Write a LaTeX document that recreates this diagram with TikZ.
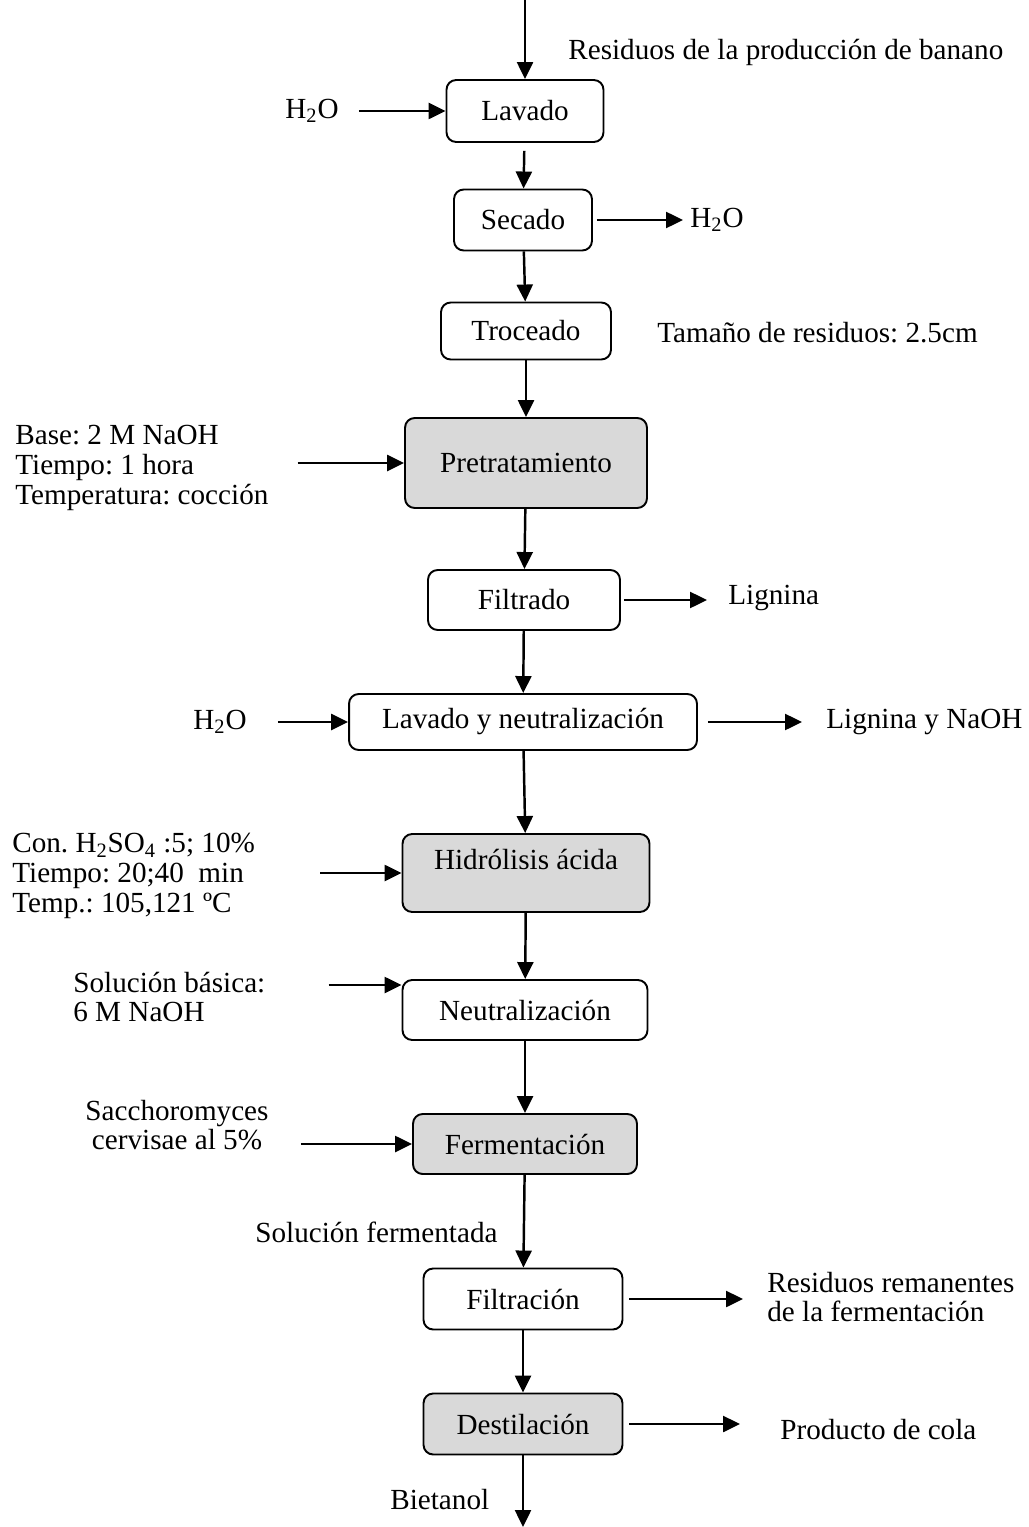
\documentclass[tikz,border=0pt]{standalone}
\usepackage{fontspec}
\setmainfont{Liberation Serif}
\usepackage{tikz}
\usetikzlibrary{arrows.meta}

\definecolor{boxgray}{HTML}{D9D9D9}
\newcommand{\flowsize}{\fontsize{16.6pt}{17pt}\selectfont}
\frenchspacing

\begin{document}
\begin{tikzpicture}[x=0.02cm, y=-0.02cm,
  every node/.style={font=\flowsize},
  stepbox/.style={rectangle, draw, line width=1.1pt, rounded corners=5.5pt, inner sep=0pt, align=center},
  graybox/.style={stepbox, fill=boxgray},
  lbl/.style={inner sep=0pt, anchor=west, align=left},
  flow/.style={-{Triangle[length=3.4mm,width=3.2mm]}, line width=1.4pt}]
\useasboundingbox (0,0) rectangle (1028,1527);

% Process steps
\node[stepbox, minimum width=3.14cm, minimum height=1.24cm] (lavado) at (525,111) {Lavado};
\node[stepbox, minimum width=2.76cm, minimum height=1.22cm] (secado) at (523,220) {Secado};
\node[stepbox, minimum width=3.40cm, minimum height=1.14cm] (troceado) at (526,331) {Troceado};
\node[graybox, minimum width=4.84cm, minimum height=1.80cm] (pretrat) at (526,463) {Pretratamiento};
\node[stepbox, minimum width=3.84cm, minimum height=1.20cm] (filtrado) at (524,600) {Filtrado};
\node[stepbox, minimum width=6.96cm, minimum height=1.12cm] (lavneut) at (523,722) {Lavado y neutralización};
\node[graybox, minimum width=4.94cm, minimum height=1.56cm, text depth=0.56cm] (hidro) at (526,873) {Hidrólisis ácida};
\node[stepbox, minimum width=4.90cm, minimum height=1.20cm] (neutr) at (525,1010) {Neutralización};
\node[graybox, minimum width=4.48cm, minimum height=1.20cm] (ferm) at (525,1144) {Fermentación};
\node[stepbox, minimum width=3.98cm, minimum height=1.22cm] (filtrac) at (523,1299) {Filtración};
\node[graybox, minimum width=3.98cm, minimum height=1.22cm] (destil) at (523,1424) {Destilación};

% Feed and product ends
\coordinate (feed) at (525,0);
\coordinate (prod) at (523,1527);

% Streams and conditions
\node[lbl] (residuos) at (568,52) {Residuos de la producción de banano};
\node[lbl] (aguain) at (285,111) {H\textsubscript{2}O};
\node[lbl] (aguaout) at (690,220) {H\textsubscript{2}O};
\node[lbl] (tamano) at (657,333) {Tamaño de residuos: 2.5cm};
\node[lbl] (base) at (15,468) {Base: 2 M NaOH\\Tiempo: 1 hora\\Temperatura: cocción};
\node[lbl] (lignina) at (728,598) {Lignina};
\node[lbl] (agualav) at (193,722) {H\textsubscript{2}O};
\node[lbl] (ligsosa) at (826,722) {Lignina y NaOH};
\node[lbl] (acido) at (12,876) {Con. H\textsubscript{2}SO\textsubscript{4} :5; 10\%\\Tiempo: 20;40\ \ min\\Temp.: 105,121 ºC};
\node[lbl] (basica) at (73,997) {Solución básica:\\6 M NaOH};
\node[inner sep=0pt, align=center] (levadura) at (177,1125) {Sacchoromyces\\cervisae al 5\%};
\node[lbl] (solferm) at (255,1232) {Solución fermentada};
\node[lbl] (remanente) at (767,1297) {Residuos remanentes\\de la fermentación};
\node[lbl] (cola) at (780,1430) {Producto de cola};
\node[lbl] (bietanol) at (390,1500) {Bietanol};

% Main line
\draw[flow] (feed) -- (lavado);
\draw[flow, shorten <=0.16cm] (lavado) -- (secado);
\draw[flow] (secado) -- (troceado);
\draw[flow] (troceado) -- (pretrat);
\draw[flow] (pretrat) -- (filtrado);
\draw[flow] (filtrado) -- (lavneut);
\draw[flow] (lavneut) -- (hidro);
\draw[flow] (hidro) -- (neutr);
\draw[flow] (neutr) -- (ferm);
\draw[flow] (ferm) -- (filtrac);
\draw[flow] (filtrac) -- (destil);
\draw[flow] (destil) -- (prod);

% Side inputs
\draw[flow, shorten <=0.4cm] (aguain.east |- lavado.west) -- (lavado.west);
\draw[flow, shorten <=0.58cm] (base.east |- pretrat.west) -- (pretrat.west);
\draw[flow, shorten <=0.62cm] (agualav.east |- lavneut.west) -- (lavneut.west);
\draw[flow, shorten <=1.3cm] (acido.east |- hidro.west) -- (hidro.west);
\path ([yshift=0.5cm]neutr.west) coordinate (neutrin);
\draw[flow, shorten <=1.26cm] (basica.east |- neutrin) -- (neutrin);
\draw[flow, shorten <=0.64cm] (levadura.east |- ferm.west) -- (ferm.west);

% Side outputs
\draw[flow, shorten <=0.08cm, shorten >=0.14cm] (secado.east) -- (aguaout.west |- secado.east);
\draw[flow, shorten <=0.06cm, shorten >=0.42cm] (filtrado.east) -- (lignina.west |- filtrado.east);
\draw[flow, shorten <=0.2cm, shorten >=0.48cm] (lavneut.east) -- (ligsosa.west |- lavneut.east);
\draw[flow, shorten <=0.12cm, shorten >=0.48cm] (filtrac.east) -- (remanente.west |- filtrac.east);
\draw[flow, shorten <=0.12cm, shorten >=0.8cm] (destil.east) -- (cola.west |- destil.east);

\end{tikzpicture}
\end{document}
